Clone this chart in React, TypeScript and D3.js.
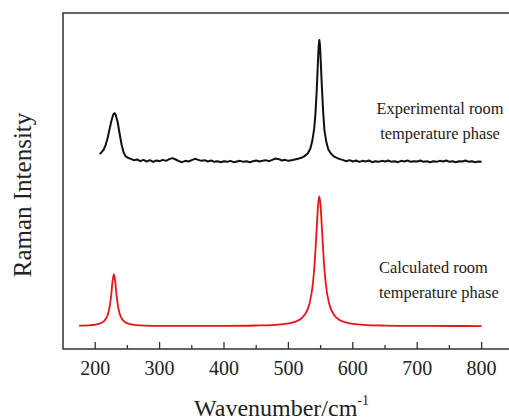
import React from "react";
import * as d3 from "d3";

const W = 509;
const H = 420;

// axis ticks
const majorTicks = [200, 300, 400, 500, 600, 700, 800];
const minorTicks = [250, 350, 450, 550, 650, 750];

// Calculated spectrum (red)
const calcWn = [175, 190, 200, 210, 215, 220, 223, 225, 227, 229, 231, 233, 235, 238, 243, 248, 258, 270, 300, 350, 400, 450, 480, 500, 515, 525, 533, 538, 541, 544, 546, 548, 550, 552, 555, 558, 563, 571, 581, 596, 616, 650, 700, 750, 800];
const calcI = [6.94, 7.05, 7.27, 7.82, 8.57, 10.5, 13.2, 16.3, 20.2, 22.3, 20.2, 16.3, 13.2, 10.5, 8.57, 7.82, 7.27, 7.05, 6.91, 6.87, 6.89, 7.0, 7.21, 7.61, 8.47, 10.1, 13.7, 19.5, 26.2, 36.0, 42.6, 45.5, 42.6, 36.0, 26.2, 19.5, 13.7, 10.1, 8.47, 7.61, 7.21, 6.98, 6.88, 6.85, 6.83];

// Experimental spectrum (black)
const expWn = [207, 210, 213, 216, 219, 222, 225, 228, 230, 232, 235, 238, 241, 244, 247, 250, 255, 260, 265, 270, 275, 280, 285, 290, 295, 300, 305, 310, 315, 320, 325, 330, 335, 340, 345, 350, 355, 360, 365, 370, 375, 380, 385, 390, 395, 400, 405, 410, 415, 420, 425, 430, 435, 440, 445, 450, 455, 460, 465, 470, 475, 480, 485, 490, 495, 500, 505, 510, 515, 520, 525, 530, 534, 537, 540, 542, 544, 546, 547, 548, 549, 550, 552, 554, 556, 559, 562, 566, 570, 575, 580, 585, 590, 595, 600, 605, 610, 615, 620, 625, 630, 635, 640, 645, 650, 655, 660, 665, 670, 675, 680, 685, 690, 695, 700, 705, 710, 715, 720, 725, 730, 735, 740, 745, 750, 755, 760, 765, 770, 775, 780, 785, 790, 795, 800];
const expI = [58.0, 58.6, 59.3, 60.6, 62.6, 65.2, 67.8, 69.8, 70.2, 69.6, 67.4, 64.0, 60.8, 58.6, 57.4, 57.0, 56.6, 56.2, 56.4, 55.9, 56.3, 55.8, 56.2, 55.7, 56.1, 55.9, 56.3, 56.0, 56.5, 56.8, 56.4, 55.9, 55.6, 56.0, 55.8, 56.2, 56.6, 56.3, 56.0, 56.2, 55.8, 56.1, 55.7, 55.9, 55.6, 55.9, 55.7, 56.0, 55.6, 55.8, 56.0, 55.7, 55.9, 55.6, 55.9, 56.1, 55.8, 56.0, 56.2, 55.9, 56.3, 56.7, 56.5, 56.1, 56.3, 56.0, 56.2, 56.4, 56.6, 56.9, 57.4, 58.2, 59.6, 61.8, 65.5, 70.0, 77.0, 86.0, 90.0, 92.0, 90.5, 86.5, 78.0, 70.5, 65.0, 61.5, 59.4, 58.2, 57.4, 56.9, 56.5, 56.2, 55.9, 56.2, 55.8, 56.1, 55.7, 56.0, 55.8, 56.1, 55.6, 55.9, 55.7, 56.0, 55.8, 56.1, 55.7, 55.9, 55.6, 56.0, 55.8, 56.1, 55.7, 55.9, 55.8, 56.1, 55.7, 55.9, 55.6, 55.9, 55.7, 56.0, 55.8, 56.1, 55.7, 55.9, 55.6, 55.9, 55.8, 56.1, 55.7, 55.9, 55.6, 55.8, 55.7];

const FONT = "'Liberation Serif', 'Times New Roman', serif";

export default function App() {
  const left = 63;
  const top = 13;
  const bottom = 349;
  const x = d3.scaleLinear().domain([150, 850]).range([left, left + 700 * 0.644]);
  const y = d3.scaleLinear().domain([0, 100]).range([bottom, top]);

  const lineCalc = d3
    .line<number>()
    .x((_, i) => x(calcWn[i]))
    .y((d) => y(d))
    .curve(d3.curveMonotoneX);
  const lineExp = d3
    .line<number>()
    .x((_, i) => x(expWn[i]))
    .y((d) => y(d));

  const right = x(850);

  return (
    <svg
      width={W}
      height={H}
      style={{ position: "absolute", left: 0, top: 0, background: "#fff" }}
    >
      <rect x={0} y={0} width={W} height={H} fill="#fff" />
      {/* frame */}
      <path
        d={`M${right},${top}H${left}V${bottom}H${right}`}
        fill="none"
        stroke="#333"
        strokeWidth={1.5}
      />
      {majorTicks.map((t) => (
        <line key={"M" + t} x1={x(t)} x2={x(t)} y1={bottom} y2={bottom - 7} stroke="#333" strokeWidth={1.3} />
      ))}
      {minorTicks.map((t) => (
        <line key={"m" + t} x1={x(t)} x2={x(t)} y1={bottom} y2={bottom - 4} stroke="#333" strokeWidth={1.3} />
      ))}
      {majorTicks.map((t) => (
        <text key={"l" + t} x={x(t)} y={375} textAnchor="middle" fontFamily={FONT} fontSize={20} fill="#222">
          {t}
        </text>
      ))}
      <path d={lineExp(expI) || ""} fill="none" stroke="#111" strokeWidth={2} strokeLinejoin="round" />
      <path d={lineCalc(calcI) || ""} fill="none" stroke="#e8141b" strokeWidth={1.8} />

      <text x={440} y={114} textAnchor="middle" fontFamily={FONT} fontSize={16.4} fill="#222">
        Experimental room
      </text>
      <text x={440} y={139} textAnchor="middle" fontFamily={FONT} fontSize={16.4} fill="#222">
        temperature phase
      </text>
      <text x={379} y={273} textAnchor="start" fontFamily={FONT} fontSize={16.4} fill="#222">
        Calculated room
      </text>
      <text x={379} y={298} textAnchor="start" fontFamily={FONT} fontSize={16.4} fill="#222">
        temperature phase
      </text>

      <text x={194} y={416} fontFamily={FONT} fontSize={24} fill="#222">
        Wavenumber/cm
        <tspan fontSize={14} dy={-11}>-1</tspan>
      </text>
      <text
        transform={`translate(31,195) rotate(-90)`}
        textAnchor="middle"
        fontFamily={FONT}
        fontSize={25}
        fill="#222"
      >
        Raman Intensity
      </text>
    </svg>
  );
}
